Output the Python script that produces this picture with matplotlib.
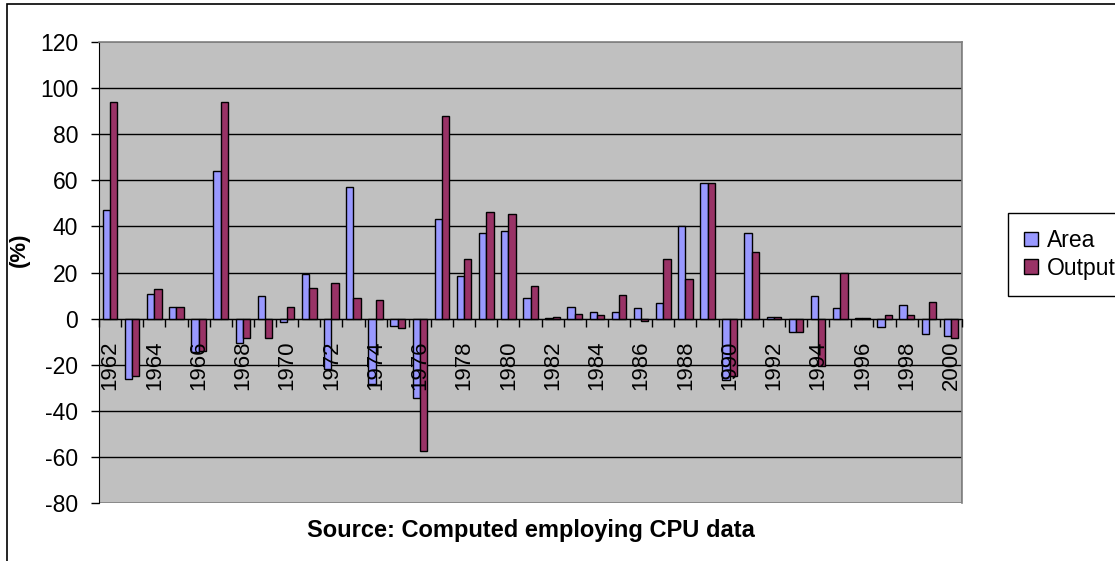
import numpy as np
import matplotlib.pyplot as plt
from matplotlib.patches import Rectangle

plt.rcParams['font.family'] = ['Liberation Sans', 'DejaVu Sans']
plt.rcParams['axes.unicode_minus'] = False

# data
years = list(range(1962, 2001))
area = [47, -26, 10.5, 5.2, -14.5, 64, -10.5, 9.6, -1.6, 19.3,
        -22, 57.2, -28.5, -3, -34.5, 43, 18.6, 37.2, 38, 8.8,
        0.3, 5.2, 2.9, 2.9, 4.5, 6.7, 40, 58.7, -26.5, 37.2,
        0.5, -5.9, 9.7, 4.5, 0.3, -3.8, 5.9, -6.7, -7.4]
output = [93.8, -24.8, 12.8, 5.2, -14, 93.8, -8.4, -8.4, 5.2, 13.3,
          15.5, 8.8, 8.1, -3.9, -57.3, 87.8, 25.9, 46.2, 45.4, 14.2,
          0.7, 2.2, 1.4, 10.4, -0.9, 25.9, 17.1, 58.7, -25, 29,
          0.5, -5.9, -20.7, 20, 0.3, 1.4, 1.4, 7.4, -8.4]

fig = plt.figure(figsize=(11.15, 5.61), dpi=100)
ax = fig.add_axes([99/1115, 1-503/561, 863/1115, 461/561])

# chart border (cropped on the right and bottom)
fig.patches.append(Rectangle((7/1115, -0.1), 1.2, 1-4/561+0.1, transform=fig.transFigure,
                             fill=False, edgecolor='black', lw=1.2))

x = np.arange(len(years))
bw = 0.33
ax.bar(x - bw/2, area, bw, color='#9999FF', edgecolor='black', lw=1, label='Area', zorder=3)
ax.bar(x + bw/2, output, bw, color='#993366', edgecolor='black', lw=1, label='Output', zorder=3)

ax.set_facecolor('#C0C0C0')
ax.set_xlim(-0.5, len(years) - 0.5)
ax.set_ylim(-80, 120)
yt = list(range(-80, 121, 20))
ax.set_yticks(yt)
ax.hlines(yt[1:-1], -0.5, len(years) - 0.5, color='black', lw=1, zorder=1)

# frame of plot area
for s in ['top', 'right']:
    ax.spines[s].set_color('#808080')
    ax.spines[s].set_linewidth(1.2)
ax.add_patch(Rectangle((0, 0), 1, 1, transform=ax.transAxes, fill=False,
                       edgecolor='#808080', lw=1.2, zorder=0.5))
ax.spines['left'].set_color('black')
ax.spines['bottom'].set_position(('data', 0))
ax.spines['bottom'].set_color('black')
ax.spines['bottom'].set_zorder(4)
ax.xaxis.set_zorder(5)

ax.tick_params(axis='y', direction='out', length=6, width=1, labelsize=16.5, pad=9)

# category labels at centres, tick marks at boundaries
ax.set_xticks(x)
ax.set_xticklabels([str(y) if y % 2 == 0 else '' for y in years], rotation=90, fontsize=16)
ax.tick_params(axis='x', which='major', length=0, pad=16)
ax.set_xticks(np.arange(-0.5, len(years), 1), minor=True)
ax.tick_params(axis='x', which='minor', direction='out', length=6, width=1)

ax.set_ylabel('(%)', fontsize=16, fontweight='bold')
ax.yaxis.set_label_coords(-0.08, 0.55)

fig.text(531/1115, 1-531/561, 'Source: Computed employing CPU data', ha='center', va='center',
         fontsize=17, fontweight='bold')

leg = fig.legend(loc='upper left', bbox_to_anchor=(1008/1115, 1-213/561), fontsize=16.5,
                 frameon=True, fancybox=False, edgecolor='black', framealpha=1,
                 handlelength=0.6, handleheight=0.6, handletextpad=0.4, borderpad=0.7,
                 labelspacing=0.2, borderaxespad=0)
leg.get_frame().set_linewidth(1)

fig.savefig('out.png', dpi=100)
